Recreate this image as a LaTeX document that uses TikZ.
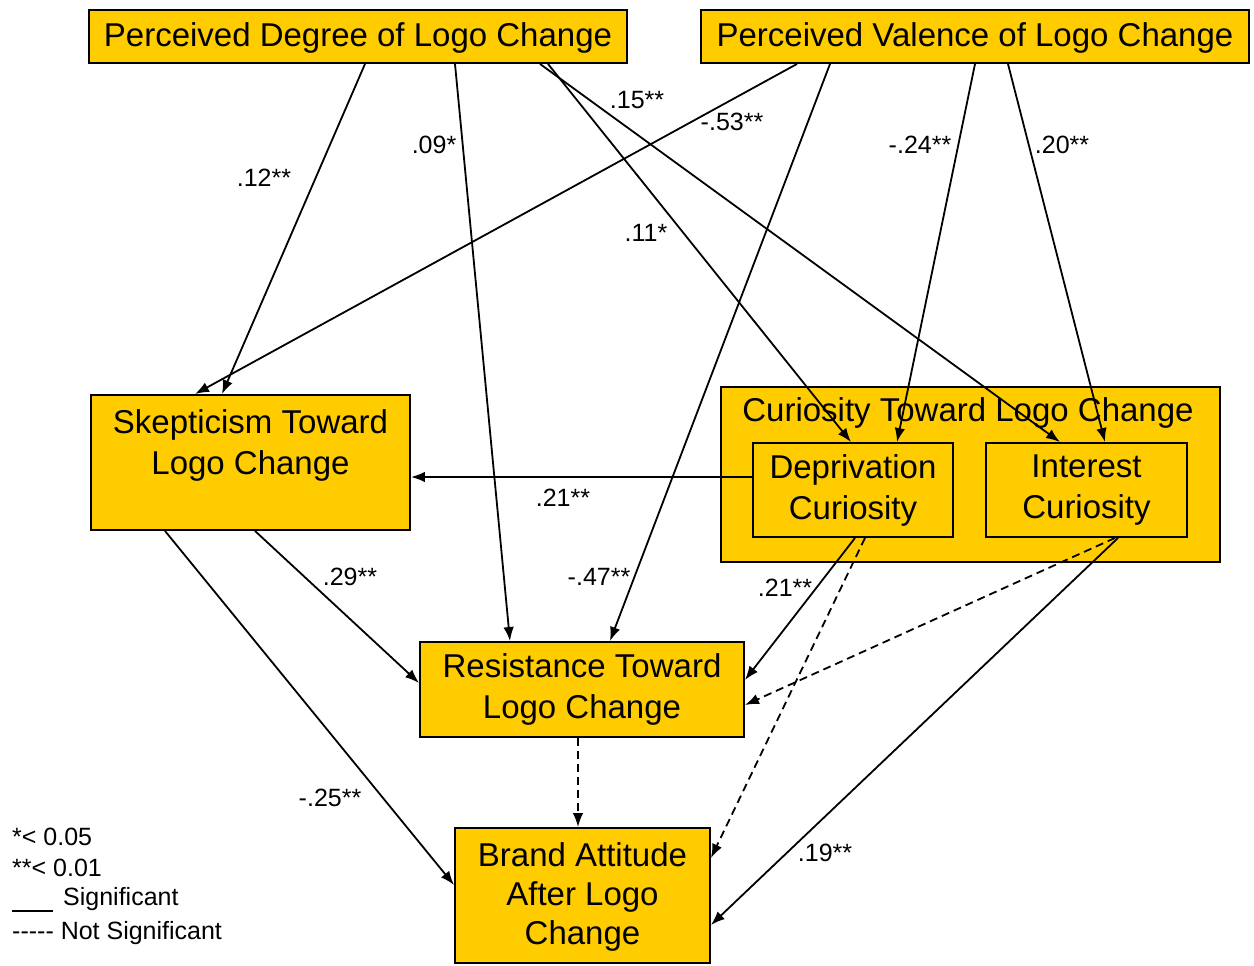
\documentclass[tikz,border=0pt]{standalone}
\usepackage{fontspec}
\setmainfont{Liberation Sans}
\usetikzlibrary{arrows.meta}
\definecolor{boxgold}{HTML}{FFCC00}
\tikzset{
  box/.style={draw=black, line width=1.9pt, fill=boxgold, align=center,
    inner sep=0pt, font=\fontsize{33}{41}\selectfont},
  link/.style={line width=1.8pt, -{Latex[length=14pt,width=10.5pt]}},
  nslink/.style={link, dash pattern=on 8pt off 5pt},
  coef/.style={font=\fontsize{25}{30}\selectfont, inner sep=0pt},
  legend/.style={font=\fontsize{25}{30}\selectfont, inner sep=0pt, anchor=west},
}
\begin{document}
\begin{tikzpicture}[x=1pt,y=-1pt]
\useasboundingbox (0,0) rectangle (1254,966);
\fill[white] (0,0) rectangle (1254,966);

% antecedents
\node[box, minimum width=538pt, minimum height=53pt, text depth=3pt] (deg) at (358,36.5)
  {Perceived Degree of Logo Change};
\node[box, minimum width=548pt, minimum height=53pt, text depth=3pt] (val) at (975,36.5)
  {Perceived Valence of Logo Change};

% mediators
\node[box, minimum width=319pt, minimum height=135pt] (skep) at (250.5,462.5)
  {\fontsize{33}{39}\selectfont Skepticism Toward\\Logo Change\\\mbox{}};
\node[box, minimum width=499pt, minimum height=175pt] (cur) at (970.5,474.5) {};
\node[font=\fontsize{33}{39}\selectfont, inner sep=0pt] (curtitle) at (968,413)
  {Curiosity Toward Logo Change};
\node[box, minimum width=200pt, minimum height=94pt] (dep) at (853,490)
  {Deprivation\\Curiosity};
\node[box, minimum width=201pt, minimum height=94pt] (int) at (1086.5,490)
  {Interest\\Curiosity};
\node[box, minimum width=324pt, minimum height=95pt] (res) at (582,689.5)
  {Resistance Toward\\Logo Change};

% outcome
\node[box, minimum width=255pt, minimum height=135pt, font=\fontsize{33}{39}\selectfont]
  (brand) at (582.5,895.5)
  {\rule{0pt}{27pt}Brand Attitude\\After Logo\\Change};

% paths
\draw[link] ([xshift=7pt]deg.south) -- ([xshift=-28.5pt]skep.north);
\draw[link] ([xshift=97pt]deg.south) -- ([xshift=-72pt]res.north);
\draw[link] ([xshift=190pt]deg.south) -- ([xshift=-2pt]dep.north);
\draw[link] ([xshift=182pt]deg.south) -- ([xshift=-26.5pt]int.north);
\draw[link] ([xshift=-178pt]val.south) -- ([xshift=-55.5pt]skep.north);
\draw[link] ([xshift=-145pt]val.south) -- ([xshift=28pt]res.north);
\draw[link] (val.south) -- ([xshift=44pt]dep.north);
\draw[link] ([xshift=33pt]val.south) -- ([xshift=18.5pt]int.north);
\draw[link] ([yshift=13pt]dep.west) -- ([yshift=-14.5pt]skep.east);
\draw[link] ([xshift=4.5pt]skep.south) -- ([yshift=6.5pt]res.west);
\draw[link] ([xshift=-85.5pt]skep.south) -- ([yshift=10.5pt]brand.west);
\draw[link] ([xshift=2pt]dep.south) -- ([yshift=9.5pt]res.east);
\draw[nslink] ([xshift=12pt]dep.south) -- ([yshift=37.5pt]brand.east);
\draw[nslink] ([xshift=28.5pt]int.south) -- ([yshift=-15.5pt]res.east);
\draw[link] ([xshift=31.5pt]int.south) -- ([yshift=-29.5pt]brand.east);
\draw[nslink] ([xshift=-4pt]res.south) -- ([xshift=-4.5pt]brand.north);

% path coefficients
\node[coef] (c1) at (264,178) {.12**};
\node[coef] (c2) at (434,145) {.09*};
\node[coef] (c3) at (637,100) {.15**};
\node[coef] (c4) at (732,122) {-.53**};
\node[coef] (c5) at (920,145) {-.24**};
\node[coef] (c6) at (1062,145) {.20**};
\node[coef] (c7) at (646,233) {.11*};
\node[coef] (c8) at (563,498) {.21**};
\node[coef] (c9) at (350,577) {.29**};
\node[coef] (c10) at (599,577) {-.47**};
\node[coef] (c11) at (785,588) {.21**};
\node[coef] (c12) at (330,798) {-.25**};
\node[coef] (c13) at (825,853) {.19**};

% key
\node[legend] (k1) at (12,837) {*< 0.05};
\node[legend] (k2) at (12,868) {**< 0.01};
\node[legend] (k3) at (63,899) {Significant};
\draw[line width=1.8pt] (12,911) -- (53,911);
\node[legend] (k4) at (12,933) {-{}-{}-{}-{}- Not Significant};
\end{tikzpicture}
\end{document}
